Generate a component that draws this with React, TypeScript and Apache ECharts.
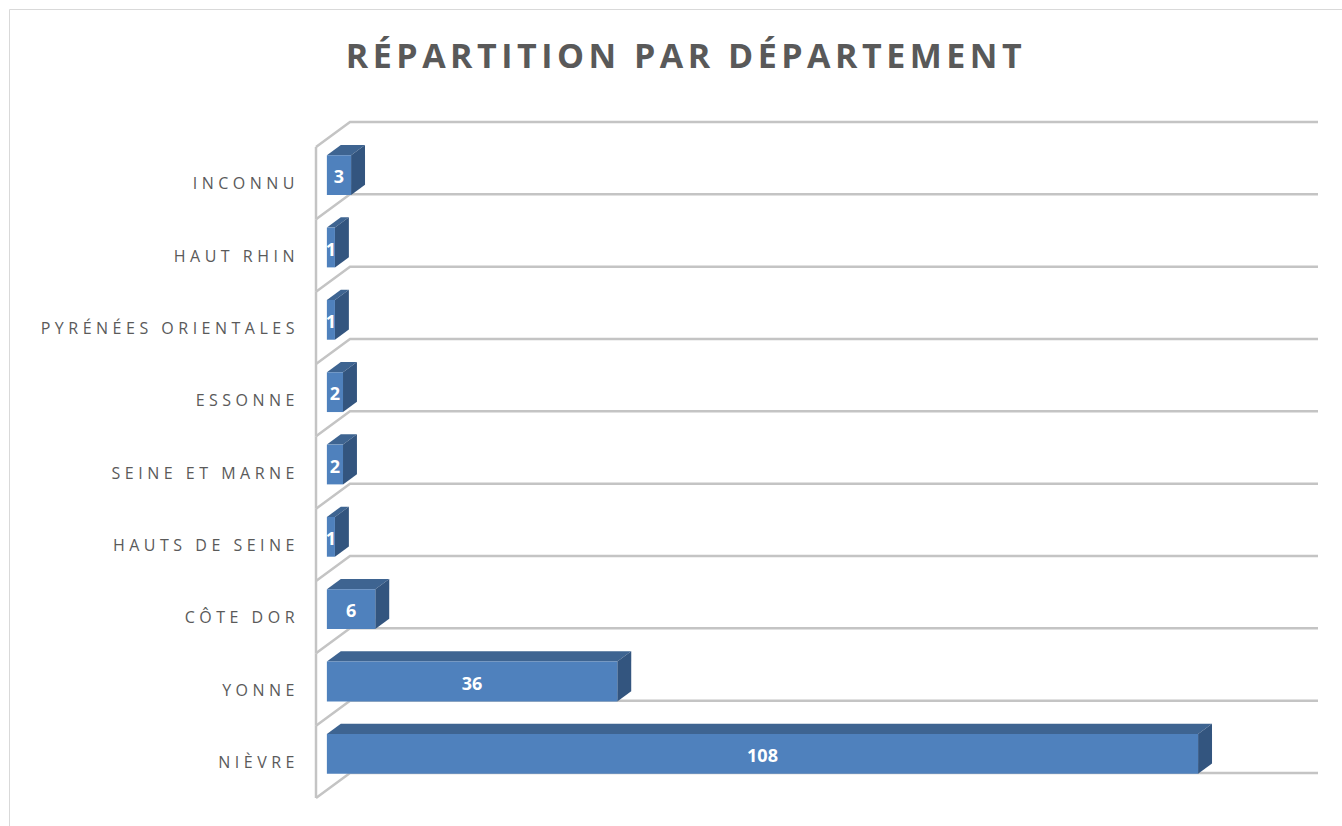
import React, { useEffect, useRef } from "react";
import * as echarts from "echarts";

const titleText = "RÉPARTITION PAR DÉPARTEMENT";
const categories = [
  "NIÈVRE",
  "YONNE",
  "CÔTE DOR",
  "HAUTS DE SEINE",
  "SEINE ET MARNE",
  "ESSONNE",
  "PYRÉNÉES ORIENTALES",
  "HAUT RHIN",
  "INCONNU",
];
const values = [108, 36, 6, 1, 2, 2, 1, 1, 3];
const valueMax = 120;

// oblique projection of the full wall depth
const DX = 34;
const DY = -25;
const T0 = 0.32;
const T1 = 0.73;
const BAR_RATIO = 0.55;

const FRONT = "#4F81BD";
const TOP = "#3E6491";
const SIDE = "#33557F";
const GRID = "#C4C4C4";
const TITLE_COLOR = "#595959";
const LABEL_COLOR = "#5a5a5a";

const css = `
.rk-chart svg text[fill="${TITLE_COLOR}"] { letter-spacing: 4.5px; }
.rk-chart svg text[fill="${LABEL_COLOR}"] { letter-spacing: 4.5px; }
`;

export default function App() {
  const ref = useRef<HTMLDivElement>(null);
  useEffect(() => {
    if (!ref.current) return;
    const chart = echarts.init(ref.current, undefined, { renderer: "svg" });

    const barData = values.map((v, i) => [v, i]);
    const wallData = categories.map((_, i) => [0, i]);

    const option: any = {
      animation: false,
      backgroundColor: "#ffffff",
      title: {
        text: titleText,
        left: 681,
        top: 33,
        textAlign: "center",
        textStyle: {
          color: TITLE_COLOR,
          fontSize: 34,
          fontWeight: "bold",
          fontFamily: "Open Sans",
        },
      },
      graphic: [
        {
          type: "rect",
          shape: { x: 9.5, y: 9.5, width: 1345, height: 830 },
          style: { fill: "none", stroke: "#D9D9D9", lineWidth: 1 },
          silent: true,
          z: -10,
        },
      ],
      grid: { left: 316, right: 58, top: 147, bottom: 28 },
      xAxis: {
        type: "value",
        min: 0,
        max: valueMax,
        show: false,
        splitLine: { show: false },
      },
      yAxis: {
        type: "category",
        data: categories,
        axisLine: { show: false },
        axisTick: { show: false },
        splitLine: { show: false },
        axisLabel: {
          color: LABEL_COLOR,
          fontSize: 16,
          fontFamily: "Open Sans",
          margin: 17,
        },
      },
      series: [
        {
          type: "custom",
          z: 1,
          silent: true,
          data: wallData,
          encode: { x: 0, y: 1 },
          renderItem: (params: any, api: any) => {
            const i = api.value(1);
            const c = api.coord([0, i]);
            const band = api.size([0, 1])[1];
            const xr = api.coord([valueMax, i])[0] + DX;
            const x0 = c[0];
            const yb = c[1] + band / 2;
            const yt = c[1] - band / 2;
            const children: any[] = [];
            const line = (pts: number[][]) => ({
              type: "polyline",
              shape: { points: pts },
              style: { stroke: GRID, lineWidth: 2.5, fill: "none" },
            });
            children.push(line([[x0, yb], [x0 + DX, yb + DY], [xr, yb + DY]]));
            children.push(line([[x0, yt], [x0, yb]]));
            if (i === categories.length - 1) {
              children.push(line([[x0, yt], [x0 + DX, yt + DY], [xr, yt + DY]]));
            }
            return { type: "group", children };
          },
        },
        {
          type: "custom",
          z: 2,
          data: barData,
          encode: { x: 0, y: 1 },
          renderItem: (params: any, api: any) => {
            const v = api.value(0);
            const i = api.value(1);
            const c0 = api.coord([0, i]);
            const c1 = api.coord([v, i]);
            const band = api.size([0, 1])[1];
            const h = band * BAR_RATIO;
            const L = c0[0] + T0 * DX;
            const R = c1[0] + T0 * DX;
            const cy = c0[1] + T0 * DY;
            const T = cy - h / 2;
            const B = cy + h / 2;
            const bx = (T1 - T0) * DX;
            const by = (T1 - T0) * DY;
            return {
              type: "group",
              children: [
                {
                  type: "polygon",
                  shape: { points: [[L, T], [R, T], [R + bx, T + by], [L + bx, T + by]] },
                  style: { fill: TOP },
                },
                {
                  type: "polygon",
                  shape: { points: [[R, T], [R + bx, T + by], [R + bx, B + by], [R, B]] },
                  style: { fill: SIDE },
                },
                {
                  type: "rect",
                  shape: { x: L, y: T, width: R - L, height: h },
                  style: { fill: FRONT },
                },
                {
                  type: "text",
                  x: (L + R) / 2,
                  y: cy + 1,
                  style: {
                    text: String(v),
                    fill: "#ffffff",
                    fontSize: 18,
                    fontWeight: "bold",
                    fontFamily: "Open Sans",
                    align: "center",
                    verticalAlign: "middle",
                  },
                },
              ],
            };
          },
        },
      ],
    };
    chart.setOption(option);
    return () => chart.dispose();
  }, []);
  return (
    <>
      <style>{css}</style>
      <div
        ref={ref}
        className="rk-chart"
        style={{ position: "fixed", left: 0, top: 0, width: 1342, height: 826 }}
      />
    </>
  );
}
